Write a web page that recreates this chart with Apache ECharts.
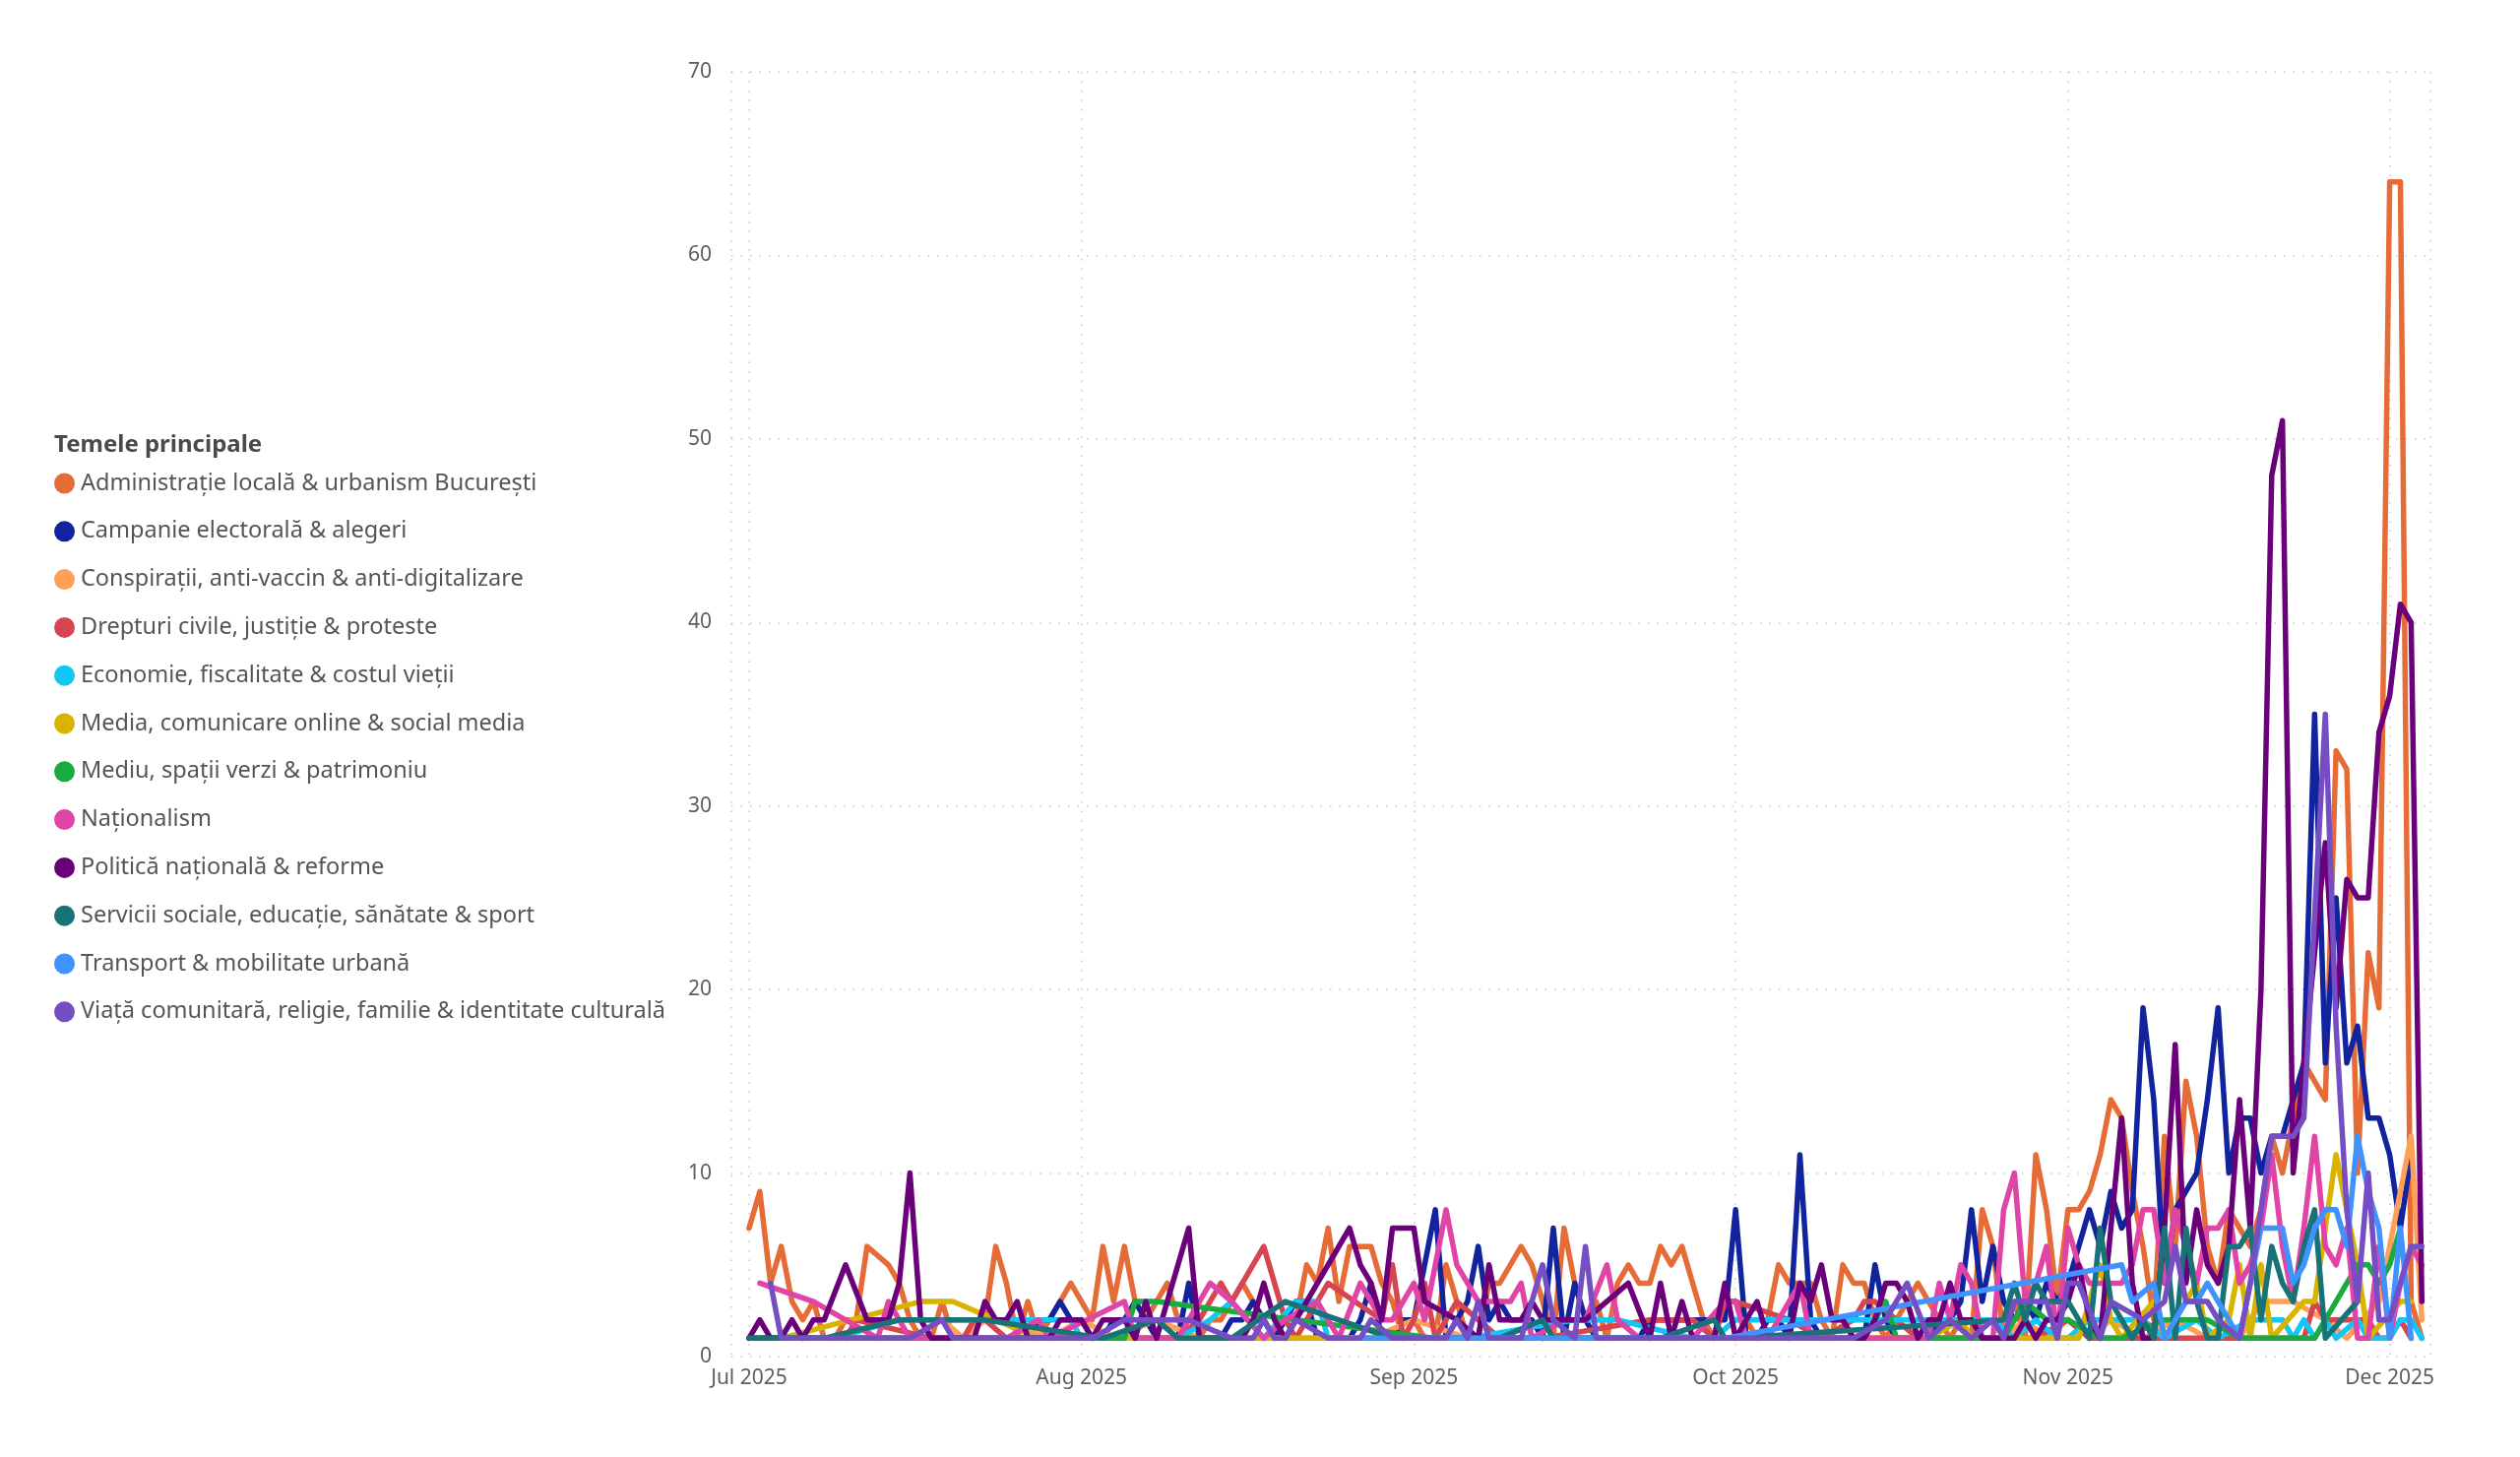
<!DOCTYPE html>
<html>
<head>
<meta charset="utf-8">
<script src="https://cdn.jsdelivr.net/npm/echarts@6/dist/echarts.min.js"></script>
<style>
  html, body { margin: 0; padding: 0; background: #fff; }
  #chart { width: 2560px; height: 1480px; }
</style>
</head>
<body>
<div id="chart"></div>
<script>
var _ = null;

// daily counts, 1 Jul 2025 .. 4 Dec 2025 (null = no posts that day)
var themes = [
  'Administrație locală & urbanism București',
  'Campanie electorală & alegeri',
  'Conspirații, anti-vaccin & anti-digitalizare',
  'Drepturi civile, justiție & proteste',
  'Economie, fiscalitate & costul vieții',
  'Media, comunicare online & social media',
  'Mediu, spații verzi & patrimoniu',
  'Naționalism',
  'Politică națională & reforme',
  'Servicii sociale, educație, sănătate & sport',
  'Transport & mobilitate urbană',
  'Viață comunitară, religie, familie & identitate culturală'
];
var colors = ['#E66C37', '#12239E', '#FFA058', '#D64550', '#15C6F4', '#D9B300',
              '#1AAB40', '#E044A7', '#6B007B', '#197278', '#4092FF', '#744EC2'];
var monthNames = ['Jan', 'Feb', 'Mar', 'Apr', 'May', 'Jun', 'Jul', 'Aug', 'Sep', 'Oct', 'Nov', 'Dec'];

var admin = [
  7,9,4,6,3,2,3,1,1,2, 2,6,_,5,4,2,1,1,3,1, 1,2,2,6,4,1,3,1,2,3, 4,
  3,2,6,3,6,3,2,3,4,2, 1,1,2,2,3,4,3,2,1,1, 2,5,4,7,3,6,6,6,4,3, 1,
  2,1,1,5,3,1,1,4,4,5, 6,5,3,1,7,4,2,3,1,4, 5,4,4,6,5,6,4,2,1,3,
  3,2,1,2,5,4,4,4,2,1, 5,4,4,2,1,2,3,4,3,2, 1,2,1,8,6,1,3,1,11,8, 3,
  8,8,9,11,14,13,9,6,2,12, 6,15,12,6,4,8,7,6,8,12, 10,13,16,15,14,33,32,10,22,19,
  64,64,3,1
];
var campanie = [
  1,1,1,1,1,1,1,1,1,1, 1,1,1,1,1,1,1,1,1,1, 1,1,1,1,1,1,1,2,2,3, 2,
  2,1,1,2,2,3,2,1,1,1, 4,1,1,1,2,2,3,2,1,2, 3,3,1,1,1,1,2,4,1,1, 2,
  2,_,8,1,2,3,6,2,3,2, 2,2,1,7,1,4,2,1,1,1, 1,1,2,2,2,2,2,2,2,2,
  8,1,1,2,2,1,11,2,1,1, 1,1,1,5,2,1,1,1,1,2, 2,3,8,3,6,3,2,3,2,4, 3,
  4,6,8,6,9,7,8,19,14,4, 8,9,10,14,19,10,13,13,10,12, 12,14,16,35,16,25,16,18,13,13,
  11,7,11,_
];
var conspiratii = [
  _,1,_,_,_,_,_,_,1,_, _,_,_,_,_,1,_,_,2,_, 1,_,2,_,2,_,_,_,1,_, _,
  2,_,_,1,_,_,_,2,_,_, _,1,_,_,1,_,_,_,1,_, _,_,1,_,_,_,_,1,_,_, _,
  2,_,_,_,_,1,_,_,_,_, 1,_,_,_,_,_,1,_,_,_, _,_,1,_,_,_,_,1,_,_,
  _,_,_,1,_,_,_,_,_,1, _,_,_,_,1,_,_,_,_,_, 1,_,_,_,_,1,_,2,_,1, _,
  2,_,1,_,2,_,_,1,_,_, 2,_,_,1,_,_,1,_,3,_, _,3,_,_,2,_,1,_,_,3,
  6,9,12,2
];
var drepturi = [
  _,_,_,_,_,_,_,_,_,1, 2,_,_,_,_,_,_,1,_,1, 1,2,2,_,1,_,_,_,1,_, _,
  _,_,_,_,_,_,_,_,_,1, _,2,_,4,3,_,_,6,_,2, 1,2,_,4,_,_,_,_,2,5, 1,
  2,4,1,2,3,_,2,_,1,_, _,_,1,_,_,_,_,_,_,_, _,_,2,_,2,_,2,_,1,3,
  3,_,_,_,_,2,_,_,1,_, _,2,3,3,_,2,_,1,_,_, _,1,_,_,_,1,_,_,1,_, _,
  2,_,1,_,1,_,_,1,_,_, 1,_,_,1,_,_,1,_,_,1, _,_,1,3,2,_,2,2,2,1,
  1,2,1,_
];
var economie = [
  _,_,_,_,_,_,_,_,1,_, _,_,_,_,2,_,_,_,2,_, _,_,_,_,2,_,2,_,_,_, 2,
  1,_,_,_,1,_,_,_,_,1, _,_,2,_,3,_,_,1,_,_, 3,_,3,1,_,_,_,1,_,_, 1,
  1,_,_,_,_,1,_,_,_,_, _,_,_,_,_,2,_,_,_,2, _,_,_,_,_,_,1,_,1,_,
  2,_,_,_,_,_,_,_,2,_, _,_,_,_,_,_,_,_,2,_, _,_,_,_,2,_,1,_,2,_, 1,
  1,_,2,_,_,2,_,2,_,1, _,_,2,_,1,_,_,2,_,2, 2,1,2,1,2,1,_,2,1,1,
  1,2,2,1
];
var media = [
  _,_,_,1,_,_,_,_,_,_, _,_,_,_,_,_,3,_,_,3, _,_,_,_,_,_,_,1,_,_, _,
  1,_,_,_,_,1,_,_,_,1, _,_,_,_,1,_,_,_,_,1, _,_,_,1,_,_,_,_,_,1, _,
  _,_,_,_,1,_,_,_,_,_, _,_,_,1,_,_,_,_,_,_, _,_,_,1,_,_,_,_,_,1,
  _,_,_,_,_,_,_,_,1,_, _,_,_,_,_,_,_,_,1,_, _,2,1,_,_,_,_,1,_,1, _,
  1,1,_,5,2,1,_,_,3,1, _,_,4,1,_,2,5,1,5,1, _,_,3,3,_,11,_,5,1,_,
  _,3,3,_
];
var mediu = [
  1,_,_,_,_,_,_,_,_,_, _,_,_,_,_,1,_,_,1,_, _,_,_,_,_,_,_,_,_,_, _,
  _,_,_,_,1,3,_,3,_,_, _,_,_,_,_,_,_,_,_,_, _,_,_,_,_,_,_,_,_,_, _,
  _,_,1,_,_,_,_,_,1,_, _,_,_,_,_,_,_,_,1,_, _,_,_,_,_,_,_,_,1,_,
  _,_,_,_,_,_,_,_,1,_, _,_,1,_,3,1,_,_,1,_, _,_,1,_,_,1,_,3,_,2, _,
  2,_,_,1,_,1,_,_,_,2, _,2,_,2,_,_,1,_,_,1, _,_,_,1,_,_,_,5,5,4,
  5,7,_,_
];
var nationalism = [
  _,4,_,_,_,_,3,_,_,_, _,_,1,3,_,1,_,_,_,_, _,1,_,_,1,_,_,2,1,_, _,
  _,_,_,_,3,1,_,_,_,1, _,_,4,_,3,_,_,1,_,2, _,_,3,_,1,_,4,_,2,2, _,
  4,2,_,8,5,4,3,_,_,3, 4,1,_,_,2,_,2,_,5,2, _,1,_,_,_,_,1,_,_,3,
  3,1,_,1,_,_,4,1,_,1, _,_,1,_,_,1,_,_,1,4, 2,5,4,1,1,8,10,3,4,6, 1,
  7,5,4,4,4,4,5,8,8,4, 8,6,4,7,7,8,4,5,7,11, 6,3,7,12,6,5,7,1,1,6,
  1,4,6,5
];
var politica = [
  1,2,1,1,2,1,2,2,_,5, _,2,2,2,4,10,2,1,1,1, 1,1,3,2,2,3,1,1,1,2, 2,
  2,1,2,2,2,1,3,1,_,_, 7,1,1,1,1,1,2,4,2,1, _,_,_,_,_,7,5,4,2,7, 7,
  7,3,_,_,2,_,1,5,2,2, 2,3,2,2,2,2,2,_,_,_, 4,_,1,4,1,3,1,_,1,4,
  1,2,3,1,1,1,4,3,5,2, 2,1,1,2,4,4,3,1,2,2, 4,2,2,1,1,1,1,2,1,2, 2,
  3,5,2,1,7,13,4,1,1,7, 17,4,8,5,4,6,14,7,20,48, 51,10,16,22,28,19,26,25,25,34,
  36,41,40,3
];
var servicii = [
  1,_,_,_,_,_,_,1,_,_, _,_,_,_,2,_,_,_,_,_, _,_,2,_,_,_,_,_,_,_, _,
  _,_,1,_,_,_,_,2,_,1, _,_,_,_,1,_,_,_,_,3, _,_,_,_,_,_,_,_,_,1, _,
  1,_,_,_,_,_,_,_,1,_, _,_,2,1,_,_,_,_,_,_, _,_,_,1,_,_,_,_,2,1,
  1,_,_,_,_,_,_,_,_,_, _,_,_,_,_,_,_,_,_,_, _,_,_,_,_,2,4,2,4,3, 3,
  3,2,1,7,3,2,1,2,1,7, 1,7,3,1,1,6,6,7,2,6, 4,3,6,8,1,_,_,3,_,_,
  _,_,_,_
];
var transport = [
  _,_,_,_,_,_,_,_,_,_, _,_,_,_,_,_,_,_,_,_, _,_,_,_,_,_,_,_,_,_, _,
  _,_,_,_,_,_,_,_,_,_, _,_,_,_,_,_,_,_,_,_, _,_,_,_,_,_,1,_,_,1, _,
  _,_,1,_,_,_,_,_,1,_, _,_,_,_,1,_,_,_,_,_, 1,_,_,_,_,_,1,_,_,1,
  _,_,_,_,_,_,_,_,_,_, _,_,_,_,_,_,_,_,_,_, _,_,_,_,_,_,_,_,_,_, _,
  _,_,_,_,_,5,3,_,4,1, 2,3,3,4,3,2,1,4,7,7, 7,4,5,7,8,8,6,12,9,7,
  1,7,1,_
];
var viata = [
  _,_,4,1,_,_,_,_,_,_, _,_,_,_,_,1,_,_,2,1, _,_,_,_,_,1,_,_,_,_, 1,
  _,1,_,_,2,_,_,_,_,_, 2,_,_,_,1,_,1,2,1,1, 2,_,_,1,_,_,1,2,_,1, _,
  _,1,_,1,2,1,3,1,_,_, 1,_,5,2,_,1,6,1,_,_, _,_,_,1,_,_,_,_,_,1,
  1,_,_,_,_,_,_,_,_,_, _,1,_,_,2,_,4,_,1,_, 2,_,1,_,2,1,3,_,_,3, 1,
  4,4,_,1,3,_,_,2,_,3, 6,3,_,3,2,_,1,4,8,12, 12,12,13,24,35,18,8,3,10,2,
  2,4,6,6
];

var seriesValues = [admin, campanie, conspiratii, drepturi, economie, media,
                    mediu, nationalism, politica, servicii, transport, viata];

var DAY = 86400000;
function dayTime(i) { return new Date(2025, 6, 1 + i).getTime(); }
var xMin = dayTime(0) - 1.65 * DAY;
var xMax = dayTime(0) + 156.8 * DAY;

var FONT = '"Noto Sans", "Open Sans", sans-serif';
var gridDots = { color: '#c8c8c8', width: 1.5, type: [1.5, 8] };

var chart = echarts.init(document.getElementById('chart'), null, { renderer: 'canvas' });

var series = [];
for (var s = 0; s < themes.length; s++) {
  var pts = [];
  for (var i = 0; i < seriesValues[s].length; i++) {
    if (seriesValues[s][i] != null) pts.push([dayTime(i), seriesValues[s][i]]);
  }
  series.push({
    name: themes[s],
    type: 'line',
    data: pts,
    showSymbol: false,
    symbol: 'none',
    lineStyle: { width: 5.5, color: colors[s], join: 'round', cap: 'round' },
    itemStyle: { color: colors[s] },
    emphasis: { disabled: true }
  });
}

chart.setOption({
  animation: false,
  color: colors,
  title: {
    text: 'Temele principale',
    left: 55,
    top: 440,
    padding: 0,
    textStyle: { fontFamily: FONT, fontSize: 24, fontWeight: 'bold', color: '#4a4a4a' }
  },
  legend: {
    orient: 'vertical',
    left: 55,
    top: 479,
    padding: 0,
    icon: 'circle',
    itemWidth: 21,
    itemHeight: 21,
    itemGap: 24.8,
    data: themes,
    textStyle: { fontFamily: FONT, fontSize: 23.5, color: '#555555', lineHeight: 21, padding: [0, 0, 0, 1] }
  },
  grid: { left: 743, right: 91, top: 73, bottom: 102, containLabel: false },
  xAxis: {
    type: 'time',
    min: xMin,
    max: xMax,
    minInterval: 28 * DAY,
    axisLine: { show: false },
    axisTick: { show: false },
    splitLine: { show: true, lineStyle: gridDots },
    axisLabel: {
      margin: 12,
      fontFamily: FONT,
      fontSize: 21,
      color: '#605e5c',
      showMinLabel: false,
      showMaxLabel: false,
      formatter: function (v) {
        var d = new Date(v);
        return monthNames[d.getMonth()] + ' ' + d.getFullYear();
      }
    }
  },
  yAxis: {
    type: 'value',
    min: 0,
    max: 70,
    interval: 10,
    axisLine: { show: false },
    axisTick: { show: false },
    splitLine: { show: true, lineStyle: gridDots },
    axisLabel: { margin: 20, fontFamily: FONT, fontSize: 21, color: '#605e5c' }
  },
  series: series
});
</script>
</body>
</html>
